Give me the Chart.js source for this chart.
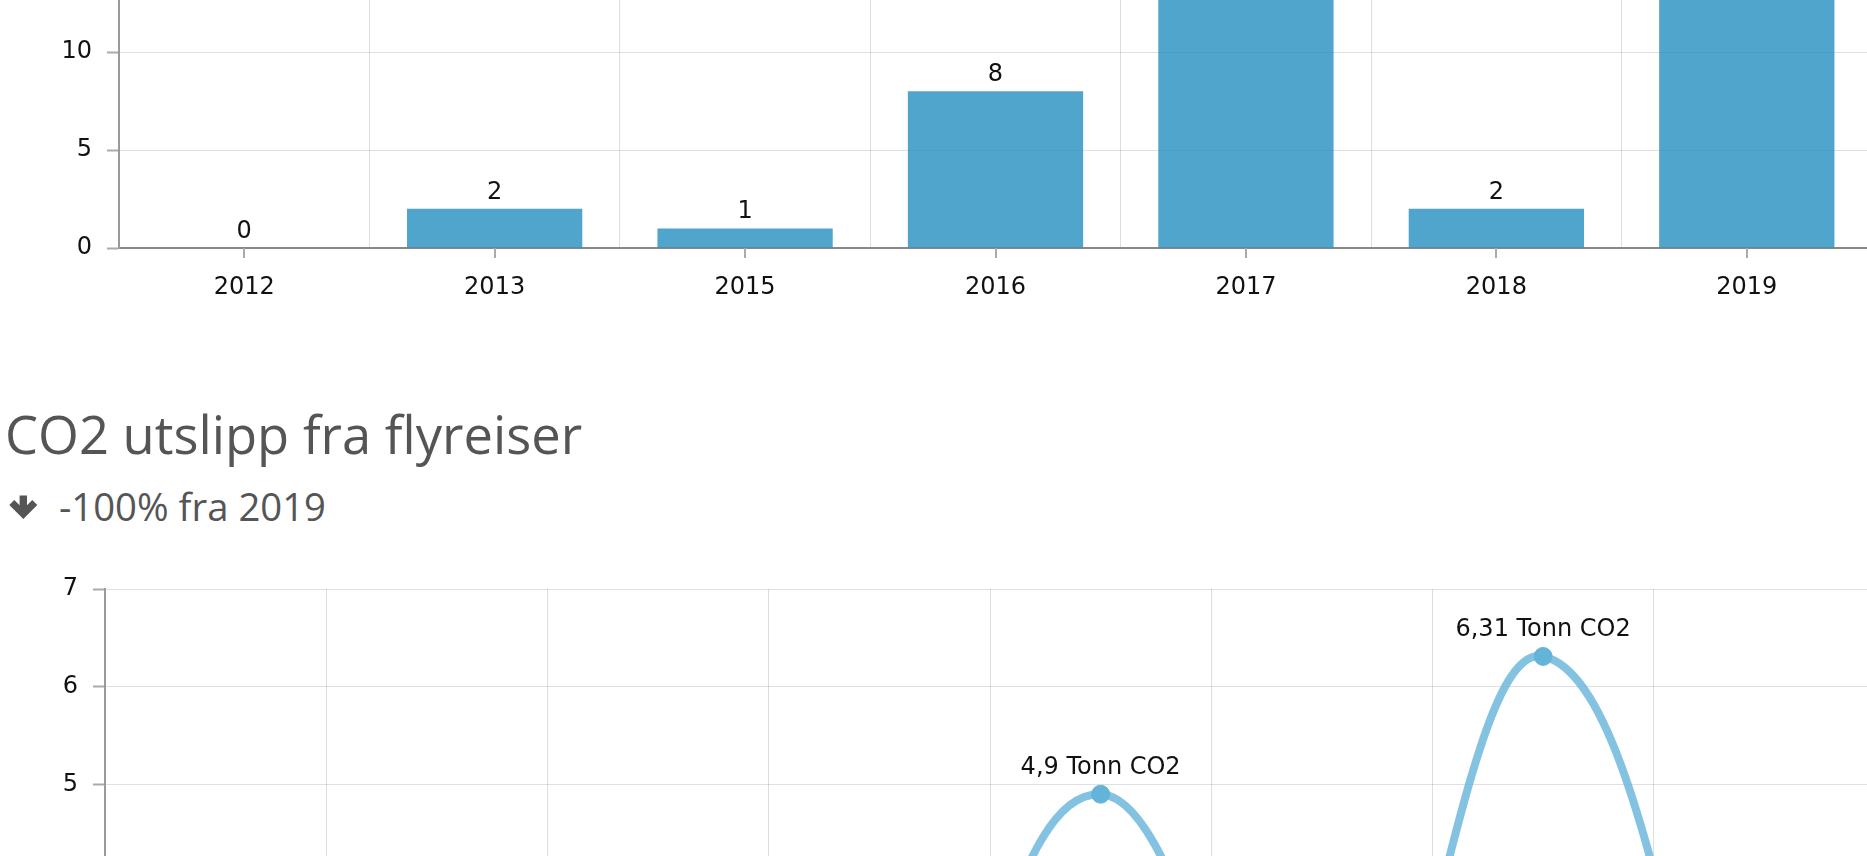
<!DOCTYPE html>
<html>
<head>
<meta charset="utf-8">
<script src="https://cdn.jsdelivr.net/npm/chart.js@4.4.1/dist/chart.umd.min.js"></script>
<style>
  body { margin: 0; overflow: hidden; background: #fff; width: 1867px; height: 856px; position: relative; }
  .box { position: absolute; left: 0; }
  #flyBox { top: -160px; width: 1872px; height: 458px; }
  #co2Box { top: 560px; width: 1875px; height: 763px; }
  .title { position: absolute; left: 5px; top: 408px; font-family: "Open Sans", sans-serif; font-size: 52.5px; line-height: 1; color: #555; white-space: nowrap; }
  .sub { position: absolute; left: 59px; top: 487px; font-family: "Open Sans", sans-serif; font-size: 38.3px; line-height: 1; color: #555; white-space: nowrap; }
  .arrow { position: absolute; left: 0; top: 0; }
</style>
</head>
<body>

<div class="box" id="flyBox"><canvas id="flights" width="1872" height="458" style="width:1872px;height:458px"></canvas></div>

<div class="title">CO2 utslipp fra flyreiser</div>
<svg class="arrow" width="40" height="530">
  <path d="M23.3,519 L9.3,505 L14.3,500 L19.6,505.3 L19.6,495.5 L27,495.5 L27,505.3 L32.3,500 L37.3,505 Z" fill="#555"/>
</svg>
<div class="sub">-100% fra 2019</div>

<div class="box" id="co2Box"><canvas id="co2" width="1875" height="763" style="width:1875px;height:763px"></canvas></div>

<script>
// Data
const years = ['2012', '2013', '2015', '2016', '2017', '2018', '2019'];
const flights = [0, 2, 1, 8, 14, 2, 16];
const flightTicks = [0, 5, 10, 15, 20];

const co2Years = ['2012', '2013', '2015', '2016', '2017', '2018', '2019', '2020'];
const co2Tonn = [0, 0.9, 0.4, 1.2, 4.9, 1.0, 6.31, 0];
const co2Ticks = [0, 1, 2, 3, 4, 5, 6, 7];

Chart.defaults.font.family = '"DejaVu Sans", Verdana, sans-serif';
Chart.defaults.font.size = 24;
Chart.defaults.color = '#111';

// tekst over hvert punkt / stolpe
function valueLabels(offset, fmt) {
  return {
    id: 'valueLabels',
    afterDatasetsDraw(chart) {
      const ctx = chart.ctx;
      const meta = chart.getDatasetMeta(0);
      const data = chart.data.datasets[0].data;
      ctx.save();
      ctx.font = '24px "DejaVu Sans", Verdana, sans-serif';
      ctx.fillStyle = '#111';
      ctx.textAlign = 'center';
      ctx.textBaseline = 'alphabetic';
      meta.data.forEach(function(el, i) {
        ctx.fillText(fmt(data[i]), el.x, el.y - offset);
      });
      ctx.restore();
    }
  };
}

// tick-merker midt under hver kategori
const centerTicks = {
  id: 'centerTicks',
  afterDraw(chart) {
    const x = chart.scales.x;
    const ctx = chart.ctx;
    ctx.save();
    ctx.strokeStyle = '#aaa';
    ctx.lineWidth = 2;
    x.ticks.forEach(function(t, i) {
      const px = Math.round(x.getPixelForTick(i));
      ctx.beginPath();
      ctx.moveTo(px, x.top);
      ctx.lineTo(px, x.top + 10);
      ctx.stroke();
    });
    ctx.restore();
  }
};

function yAxis(width, min, max, step, ticks) {
  return {
    min: min,
    max: max,
    afterBuildTicks: function(scale) { scale.ticks = ticks.map(v => ({ value: v })); },
    afterFit: function(scale) { scale.width = width; scale.paddingTop = 0; scale.paddingBottom = 0; },
    ticks: { stepSize: step, padding: 15, color: '#111' },
    grid: { color: 'rgba(0,0,0,0.12)', lineWidth: 1, tickLength: 12, tickColor: '#aaa', tickWidth: 2 },
    border: { color: '#999', width: 2 }
  };
}

function xAxis() {
  return {
    offset: true,
    afterFit: function(scale) { scale.height = 50; scale.paddingLeft = 0; scale.paddingRight = 0; },
    ticks: { padding: 25, color: '#111', maxRotation: 0, autoSkip: false },
    grid: { offset: true, drawTicks: false, color: 'rgba(0,0,0,0.13)', lineWidth: 1 },
    border: { color: '#888', width: 2 }
  };
}

new Chart(document.getElementById('flights'), {
  type: 'bar',
  data: {
    labels: years,
    datasets: [{
      data: flights,
      backgroundColor: 'rgba(36,142,191,0.8)',
      borderWidth: 0,
      barPercentage: 0.7,
      categoryPercentage: 1
    }]
  },
  options: {
    responsive: false,
    animation: false,
    layout: { autoPadding: false, padding: { top: 16, right: 0, bottom: 0, left: 0 } },
    plugins: { legend: { display: false }, tooltip: { enabled: false } },
    scales: { x: xAxis(), y: yAxis(119, 0, 20, 5, flightTicks) }
  },
  plugins: [valueLabels(10, v => String(v)), centerTicks]
});

new Chart(document.getElementById('co2'), {
  type: 'line',
  data: {
    labels: co2Years,
    datasets: [{
      data: co2Tonn,
      borderColor: 'rgba(100,180,218,0.8)',
      borderWidth: 8,
      tension: 0.4,
      fill: false,
      pointRadius: 9,
      pointBorderWidth: 1,
      pointBackgroundColor: 'rgb(100,180,218)',
      pointBorderColor: 'rgb(100,180,218)'
    }]
  },
  options: {
    responsive: false,
    animation: false,
    layout: { autoPadding: false, padding: { top: 29, right: 0, bottom: 0, left: 0 } },
    plugins: { legend: { display: false }, tooltip: { enabled: false } },
    scales: { x: xAxis(), y: yAxis(105, 0, 7, 1, co2Ticks) }
  },
  plugins: [valueLabels(20, v => String(v).replace('.', ',') + ' Tonn CO2'), centerTicks]
});
</script>
</body>
</html>
